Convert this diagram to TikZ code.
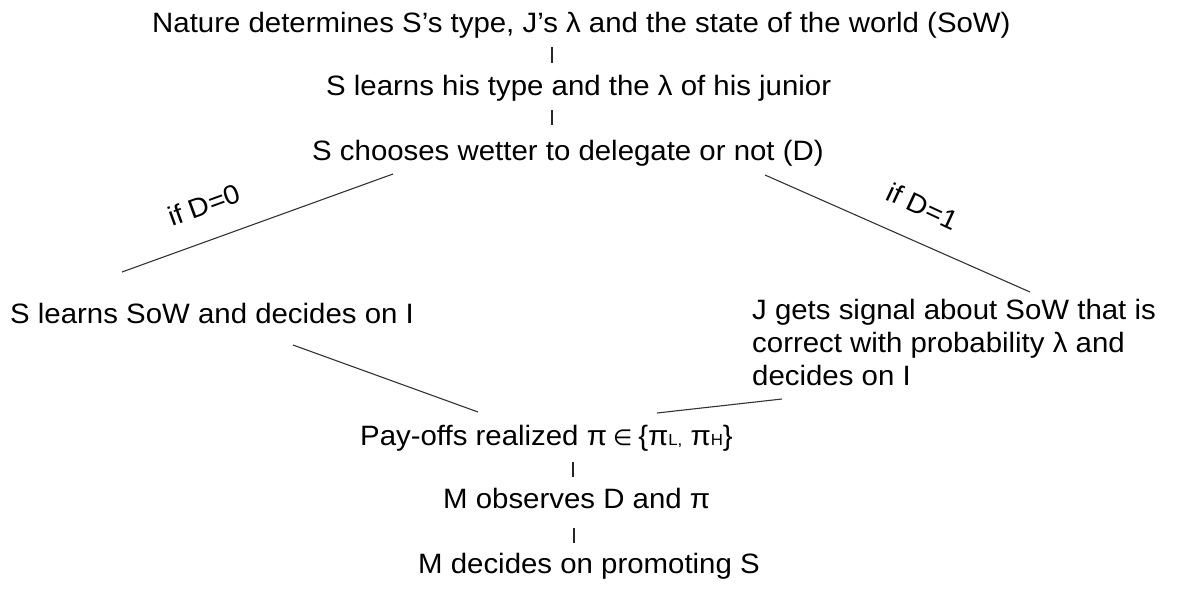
\documentclass[tikz,border=0pt]{standalone}
\usepackage{fontspec}
\setmainfont{Liberation Sans}[FakeStretch=1.05]
\newfontfamily\symfont{DejaVu Sans}
\begin{document}
\begin{tikzpicture}[x=1pt,y=-1pt,
  txt/.style={inner sep=0pt, anchor=base west, font=\fontsize{28}{33}\selectfont},
  multi/.style={txt, align=left},
  lbl/.style={inner sep=0pt, font=\fontsize{27}{33}\selectfont},
  edge/.style={line width=1.1pt, black!80},
  tick/.style={line width=1.1pt, black!85}]
\useasboundingbox (0,0) rectangle (1188,592);
% text nodes
\node[txt] (nat) at (152,32) {Nature determines S’s type, J’s λ and the state of the world (SoW)};
\node[txt] (learn) at (326,95) {S learns his type and the λ of his junior};
\node[txt] (choose) at (312,160) {S chooses wetter to delegate or not (D)};
\node[txt] (sdec) at (10,323) {S learns SoW and decides on I};
\node[multi, anchor=north west] (jdec) at (752,299) {J gets signal about SoW that is\\correct with probability λ and\\decides on I};
\node[txt] (pay) at (360,445) {Pay-offs realized π\hspace{6pt}{\symfont\fontsize{22}{22}\selectfont ∈}\hspace{6pt}\{π{\fontsize{16}{16}\selectfont L,} π{\fontsize{16}{16}\selectfont H}\}};
\node[txt] (obs) at (443,508) {M observes D and π};
\node[txt] (prom) at (418,573) {M decides on promoting S};
% branch labels
\node[lbl, rotate=20] (d0) at (204,205) {if D=0};
\node[lbl, rotate=-25] (d1) at (923,206) {if D=1};
% connector end points
\coordinate (t1a) at (552,47);  \coordinate (t1b) at (552,63);
\coordinate (t2a) at (552,110); \coordinate (t2b) at (552,125);
\coordinate (t3a) at (573,462); \coordinate (t3b) at (573,477);
\coordinate (t4a) at (574,528); \coordinate (t4b) at (574,543);
\coordinate (la) at (393,174); \coordinate (lb) at (122,272);
\coordinate (ra) at (765,175); \coordinate (rb) at (1030,292);
\coordinate (lla) at (293,345); \coordinate (llb) at (478,412);
\coordinate (rla) at (782,399); \coordinate (rlb) at (657,413);
% ticks
\draw[tick] (t1a) -- (t1b);
\draw[tick] (t2a) -- (t2b);
\draw[tick] (t3a) -- (t3b);
\draw[tick] (t4a) -- (t4b);
% branches
\draw[edge] (la) -- (lb);
\draw[edge] (ra) -- (rb);
\draw[edge] (lla) -- (llb);
\draw[edge] (rla) -- (rlb);
\end{tikzpicture}
\end{document}
